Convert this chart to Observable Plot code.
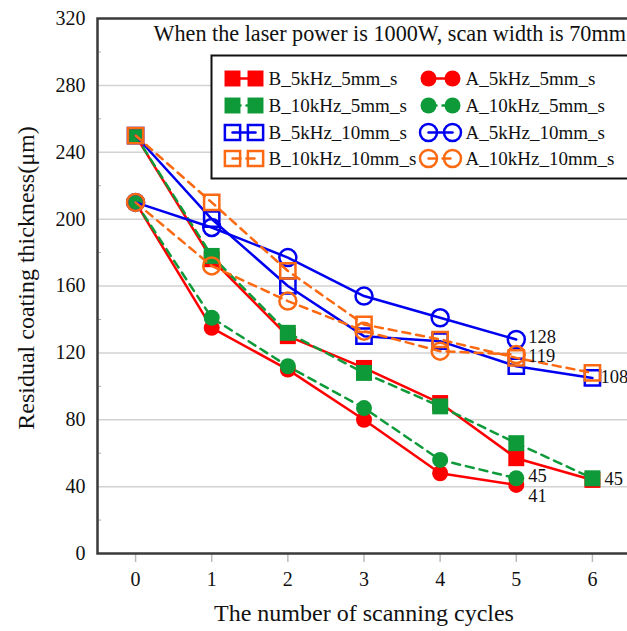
<!DOCTYPE html>
<html><head><meta charset="utf-8">
<script src="https://cdn.jsdelivr.net/npm/d3@7"></script>
<script src="https://cdn.jsdelivr.net/npm/@observablehq/plot@0.6"></script>
<style>
html,body{margin:0;padding:0;overflow:hidden;background:#fff;}
#chart svg{max-width:none !important;display:block;}
#chart svg, #chart svg text{font-family:'Liberation Serif','Times New Roman',Times,serif !important;}
</style>
</head><body><div id="chart"></div>
<script>
// ---- data ----
const cycles = [0, 1, 2, 3, 4, 5, 6];
const B_5kHz_5mm_s   = [250, 176, 130, 111, 90, 57, 44];
const B_10kHz_5mm_s  = [250, 178, 132, 108, 88, 66, 45];
const B_5kHz_10mm_s  = [250, 200, 160, 130, 127, 112, 105];
const B_10kHz_10mm_s = [250, 210, 169, 137, 128, 117, 108];
const A_5kHz_5mm_s   = [210, 135, 110, 80, 48, 41];
const A_10kHz_5mm_s  = [210, 141, 112, 87, 56, 45];
const A_5kHz_10mm_s  = [210, 195, 177, 154, 141, 128];
const A_10kHz_10mm_s = [210, 172, 151, 133, 121, 119];

const yTicks = [0, 40, 80, 120, 160, 200, 240, 280, 320];
const yMinor = [20, 60, 100, 140, 180, 220, 260, 300];

const labelCycle = [5, 5, 5, 5, 6, 6];
const labelValue = [128, 119, 45, 41, 108, 45];
const labelText  = ["128", "119", "45", "41", "108", "45"];

const titleText = "When the laser power is 1000W, scan width is 70mm";
const xTitle = "The number of scanning cycles";
const yTitle = "Residual coating thickness(μm)";

// ---- styles ----
const RED = "#ff0000", GREEN = "#0f9a3a", BLUE = "#0000f0", ORANGE = "#fb6a12";
const series = [
  {name: "B_5kHz_5mm_s",   values: B_5kHz_5mm_s,   color: RED,    symbol: "square", filled: true,  dash: null, col: 0, row: 0},
  {name: "A_5kHz_5mm_s",   values: A_5kHz_5mm_s,   color: RED,    symbol: "circle", filled: true,  dash: null, col: 1, row: 0},
  {name: "B_10kHz_5mm_s",  values: B_10kHz_5mm_s,  color: GREEN,  symbol: "square", filled: true,  dash: "8,6", col: 0, row: 1},
  {name: "A_10kHz_5mm_s",  values: A_10kHz_5mm_s,  color: GREEN,  symbol: "circle", filled: true,  dash: "8,6", col: 1, row: 1},
  {name: "B_5kHz_10mm_s",  values: B_5kHz_10mm_s,  color: BLUE,   symbol: "square", filled: false, dash: null, col: 0, row: 2},
  {name: "A_5kHz_10mm_s",  values: A_5kHz_10mm_s,  color: BLUE,   symbol: "circle", filled: false, dash: null, col: 1, row: 2},
  {name: "B_10kHz_10mm_s", values: B_10kHz_10mm_s, color: ORANGE, symbol: "square", filled: false, dash: "8,6", col: 0, row: 3},
  {name: "A_10kHz_10mm_s", values: A_10kHz_10mm_s, color: ORANGE, symbol: "circle", filled: false, dash: "8,6", col: 1, row: 3}
];

function dotR(s) {
  if (s.symbol === "square") return s.filled ? 9 : 8.6;
  return s.filled ? 8 : 8.5;
}

const FONT = "Liberation Serif";
const marks = [];

// grid + axes
marks.push(Plot.gridY(yTicks.filter(v => v > 0 && v < 320), {stroke: "#d2d2d2", strokeOpacity: 1, strokeWidth: 1.5}));
marks.push(Plot.axisY({ticks: yTicks, tickSize: 0, tickPadding: 12, label: null, fontSize: 20, fill: "#111", fontFamily: FONT}));
marks.push(Plot.axisY({ticks: yMinor, tickSize: -4, tickFormat: () => "", label: null, stroke: "#aaa"}));
marks.push(Plot.axisX({ticks: cycles, tickSize: 9, tickFormat: () => "", label: null, stroke: "#bbb", strokeWidth: 1.5}));
marks.push(Plot.axisX({ticks: cycles, tickSize: 0, tickPadding: 18, tickFormat: d => String(d), label: null, fontSize: 20, fill: "#111", fontFamily: FONT}));

// data series
for (const s of series) {
  const rows = s.values.map((v, i) => ({cycle: cycles[i], value: v}));
  marks.push(Plot.line(rows, {x: "cycle", y: "value", stroke: s.color, strokeWidth: 2.5, strokeDasharray: s.dash}));
  marks.push(Plot.dot(rows, {
    x: "cycle", y: "value", symbol: s.symbol, r: dotR(s),
    fill: s.filled ? s.color : "none", stroke: s.filled ? "none" : s.color, strokeWidth: 2.5
  }));
}

// value labels
const labels = labelText.map((t, i) => ({cycle: labelCycle[i], value: labelValue[i], text: t}));
const labelDx = [12, 12, 12, 12, 8, 12];
const labelDy = [-2, 2, -2, 11, 4, 1];
labels.forEach((d, i) => {
  marks.push(Plot.text([d], {x: "cycle", y: "value", text: "text", dx: labelDx[i], dy: labelDy[i],
    textAnchor: "start", lineAnchor: "middle", fontSize: 18.5, fill: "#111", fontFamily: FONT}));
});

// frame
marks.push(Plot.frame({stroke: "#3a3a3a", strokeWidth: 2.5}));

// title inside plot
marks.push(Plot.text([titleText], {frameAnchor: "top-left", dx: 56, dy: 7, textAnchor: "start", lineAnchor: "top", fontSize: 22.2, fill: "#111", fontFamily: FONT}));

// axis titles
marks.push(Plot.text([xTitle], {frameAnchor: "bottom", dy: 50, textAnchor: "middle", lineAnchor: "top", fontSize: 24, fill: "#111", fontFamily: FONT}));
marks.push(Plot.text([yTitle], {frameAnchor: "left", dx: -71, dy: -8, rotate: -90, textAnchor: "middle", lineAnchor: "middle", fontSize: 24, fill: "#111", fontFamily: FONT}));

// legend
marks.push(Plot.frame({insetTop: 37, insetLeft: 114, insetBottom: 375, insetRight: -20, fill: "white", stroke: "#111", strokeWidth: 2}));
const segShape = {draw(ctx, l) { ctx.moveTo(0, 0); ctx.lineTo(0, -l); }};
const rowDy = [60, 87, 114, 140];
const colM1 = [135, 331];
const colM2 = [158, 355];
const colText = [171, 368];
for (const s of series) {
  const dy = rowDy[s.row];
  marks.push(Plot.vector([s.name], {frameAnchor: "top-left", dx: colM1[s.col], dy, length: colM2[s.col] - colM1[s.col],
    rotate: 90, anchor: "start", shape: segShape, stroke: s.color, strokeWidth: 2.5, strokeDasharray: s.dash}));
  for (const mx of [colM1[s.col], colM2[s.col]]) {
    marks.push(Plot.dot([s.name], {frameAnchor: "top-left", dx: mx, dy, symbol: s.symbol, r: dotR(s),
      fill: s.filled ? s.color : "none", stroke: s.filled ? "none" : s.color, strokeWidth: 2.5}));
  }
  marks.push(Plot.text([s.name], {frameAnchor: "top-left", dx: colText[s.col], dy, text: d => d,
    textAnchor: "start", lineAnchor: "middle", fontSize: 19, fill: "#111", fontFamily: FONT}));
}

const chart = Plot.plot({
  width: 632, height: 631,
  marginLeft: 97, marginRight: 2, marginTop: 18, marginBottom: 78,
  style: "font-family: 'Liberation Serif', serif; background: white; color: #111; max-width: none;",
  x: {domain: [-0.5, 6.5]},
  y: {domain: [0, 320]},
  marks
});
document.getElementById("chart").appendChild(chart);
</script>
</body></html>
